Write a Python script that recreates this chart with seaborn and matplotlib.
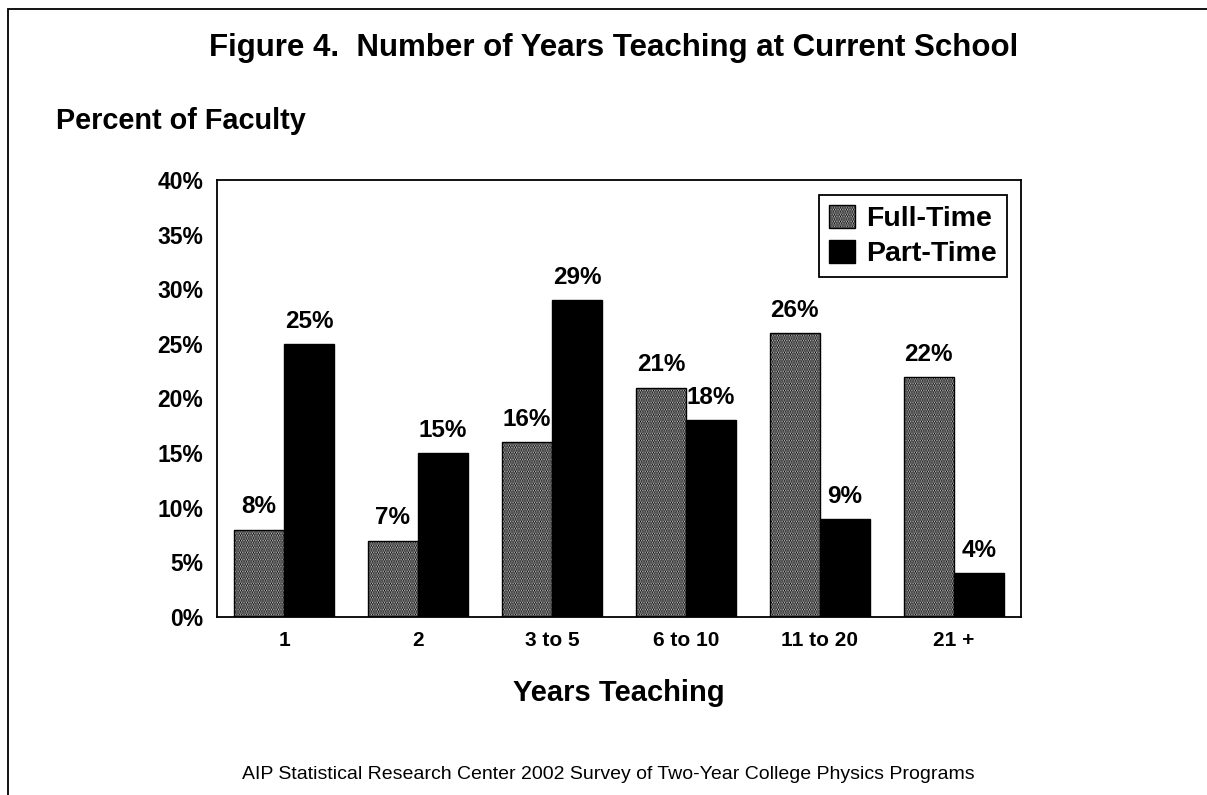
import numpy as np
import pandas as pd
import matplotlib
matplotlib.use("Agg")
import matplotlib.pyplot as plt
import seaborn as sns
from matplotlib.patches import Rectangle, Patch

# ── Data ────────────────────────────────────────────────────
years      = ["1", "2", "3 to 5", "6 to 10", "11 to 20", "21 +"]
full_time  = [8, 7, 16, 21, 26, 22]
part_time  = [25, 15, 29, 18, 9, 4]
groups     = ["Full-Time", "Part-Time"]

df = pd.DataFrame({
    "years": years * 2,
    "pct": full_time + part_time,
    "group": [groups[0]] * len(years) + [groups[1]] * len(years),
})

sns.set_style("white")
plt.rcParams["font.family"] = ["Liberation Sans", "DejaVu Sans"]
plt.rcParams["text.color"] = "black"
plt.rcParams["xtick.color"] = "black"
plt.rcParams["ytick.color"] = "black"
plt.rcParams["axes.labelcolor"] = "black"
plt.rcParams["hatch.linewidth"] = 1.4

FT_FACE  = "#d8d8d8"
FT_HATCH = "......."

fig = plt.figure(figsize=(12.07, 7.95), dpi=100)
ax = fig.add_axes([0.1798, 0.2239, 0.666, 0.5497])

sns.barplot(data=df, x="years", y="pct", hue="group", order=years,
            hue_order=groups, palette={"Full-Time": "white", "Part-Time": "black"},
            width=0.75, gap=0, edgecolor="black", linewidth=1.0, ax=ax)

# stipple look for full-time bars
for bar in ax.containers[0]:
    bar.set_hatch(FT_HATCH)
    bar.set_facecolor(FT_FACE)

for cont in ax.containers:
    ax.bar_label(cont, fmt="%d%%", padding=8, fontsize=17.5, fontweight="bold")

ax.set_xlim(-0.5, len(years) - 0.5)
ax.set_ylim(0, 40)
ax.set_yticks(range(0, 41, 5))
ax.set_yticklabels([f"{v}%" for v in range(0, 41, 5)], fontsize=16.5, fontweight="bold")
ax.set_xticklabels(years, fontsize=15, fontweight="bold")
ax.tick_params(axis="both", length=0, pad=10)
ax.set_xlabel("Years Teaching", fontsize=21, fontweight="bold", labelpad=21)
ax.set_ylabel("")
for s in ax.spines.values():
    s.set_visible(True)
    s.set_color("black")
    s.set_linewidth(1.3)

handles = [Patch(facecolor=FT_FACE, edgecolor="black", hatch=FT_HATCH, label=groups[0]),
           Patch(facecolor="black", edgecolor="black", label=groups[1])]
leg = ax.legend(handles=handles, loc="upper right",
                prop={"weight": "bold", "size": 20.5},
                frameon=True, fancybox=False, edgecolor="black",
                handlelength=0.9, handleheight=0.9, handletextpad=0.4,
                borderpad=0.35, labelspacing=0.25, borderaxespad=0,
                bbox_to_anchor=(0.9826, 0.966))
leg.get_frame().set_linewidth(1.3)
leg.get_frame().set_alpha(1)

fig.text(0.508, 0.94, "Figure 4.  Number of Years Teaching at Current School",
         ha="center", va="center", fontsize=22.5, fontweight="bold")
fig.text(0.046, 0.848, "Percent of Faculty", ha="left", va="center",
         fontsize=20.8, fontweight="bold")
fig.text(0.504, 0.026, "AIP Statistical Research Center 2002 Survey of Two-Year College Physics Programs",
         ha="center", va="center", fontsize=14)

# outer frame around the figure (cut at right and bottom edges)
fig.add_artist(Rectangle((0.007, -0.05), 1.1, 1.039, transform=fig.transFigure,
                         fill=False, edgecolor="black", linewidth=1.3))

plt.savefig("out.png", dpi=100)
plt.close()
